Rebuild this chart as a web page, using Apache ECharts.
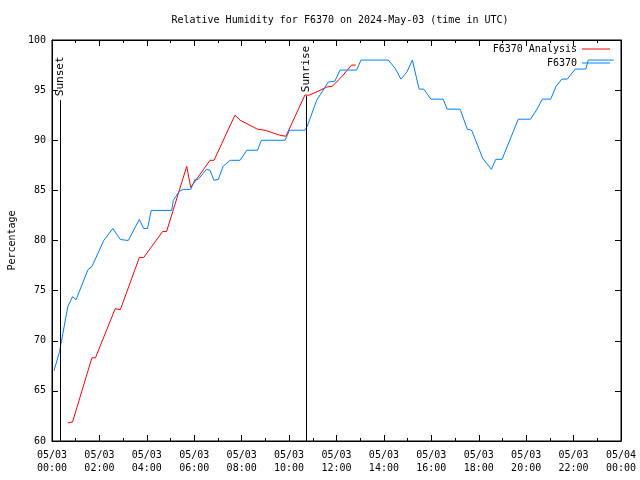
<!DOCTYPE html>
<html>
<head>
<meta charset="utf-8">
<script src="https://cdn.jsdelivr.net/npm/echarts@6/dist/echarts.min.js"></script>
<style>html,body{margin:0;padding:0;background:#fff}#c{width:640px;height:480px}</style>
</head>
<body>
<div id="c"></div>
<script>
// ---- data ----
const obsTimes = ['00:05','00:19','00:40','00:52','01:01','01:31','01:41','02:11','02:34','02:39','02:53','03:13','03:41','03:52','04:02','04:11','05:03','05:07','05:22','05:32','05:51','06:02','06:10','06:31','06:40','06:50','07:01','07:13','07:31','07:56','08:13','08:40','08:50','09:50','10:01','10:40','10:46','11:10','11:31','11:39','11:56','12:09','12:30','12:51','13:02','14:11','14:28','14:43','14:58','15:12','15:29','15:41','15:59','16:30','16:40','17:13','17:31','17:42','18:10','18:32','18:43','18:59','19:40','20:11','20:26','20:41','21:02','21:16','21:30','21:44','22:04','22:31','22:37','23:42'];
const obsValues = [67.0,68.9,73.4,74.4,74.1,77.1,77.4,80.0,81.2,81.2,80.1,80.0,82.1,81.2,81.2,83.0,83.0,84.0,84.9,85.1,85.1,86.1,86.1,87.1,87.0,86.0,86.1,87.4,88.0,88.0,89.0,89.0,90.0,90.0,91.0,91.0,91.4,94.0,95.3,95.8,95.9,97.0,97.0,97.0,98.0,98.0,97.2,96.1,96.8,98.0,95.1,95.1,94.1,94.1,93.1,93.1,91.1,91.0,88.2,87.1,88.1,88.1,92.1,92.1,93.0,94.1,94.1,95.4,96.1,96.1,97.1,97.1,98.0,98.0];
const anaTimes = ['00:40','00:52','01:41','01:50','02:40','02:53','03:41','03:52','04:40','04:50','05:41','05:51','06:40','06:50','07:43','07:56','08:40','08:59','09:37','09:52','10:40','10:51','11:14','11:35','11:50','12:17','12:38','12:49'];
const anaValues = [61.8,61.9,68.3,68.3,73.2,73.1,78.3,78.3,80.9,80.9,87.4,85.3,88.0,88.0,92.5,92.0,91.1,91.0,90.5,90.4,94.5,94.5,94.9,95.3,95.4,96.5,97.5,97.5];
const eventNames = ['Sunset','Sunrise'];
const eventTimes = ['00:19','10:44'];
const eventTops = [94.0, 94.4];
const xTickLabels = ['05/03\n00:00','05/03\n02:00','05/03\n04:00','05/03\n06:00','05/03\n08:00','05/03\n10:00','05/03\n12:00','05/03\n14:00','05/03\n16:00','05/03\n18:00','05/03\n20:00','05/03\n22:00','05/04\n00:00'];
const yTickLabels = ['60','65','70','75','80','85','90','95','100'];
const seriesNames = ['F6370 Analysis','F6370'];

// ---- helpers ----
const toH = s => { const p = s.split(':'); return +p[0] + (+p[1]) / 60; };
const pair = (ts, vs) => ts.map((t, i) => [toH(t), vs[i]]);
const FONT = 'DejaVu Sans Mono';
const txt = {fontFamily: FONT, fontSize: 10, color: '#000'};

const chart = echarts.init(document.getElementById('c'), null, {renderer: 'canvas'});
const tickCommon = {inside: true, length: 6, lineStyle: {color: '#000', width: 1}};
const axisLineCommon = {show: true, onZero: false, lineStyle: {color: '#000', width: 1}};

chart.setOption({
  animation: false,
  backgroundColor: '#fff',
  title: {
    text: 'Relative Humidity for F6370 on 2024-May-03 (time in UTC)',
    left: 335, top: 10, textAlign: 'center',
    textStyle: {fontFamily: FONT, fontSize: 10, fontWeight: 'normal', color: '#000'}
  },
  legend: {
    orient: 'vertical', right: 25, top: 39, align: 'right',
    itemWidth: 28, itemHeight: 1, itemGap: 4, icon: 'rect',
    textStyle: {fontFamily: FONT, fontSize: 10, color: '#000'},
    data: seriesNames
  },
  grid: {left: 52, right: 19, top: 40, bottom: 39, containLabel: false, outerBoundsMode: 'none',
         show: true, borderColor: '#000', borderWidth: 1, backgroundColor: 'transparent'},
  xAxis: [{
    type: 'value', min: 0, max: 24, interval: 2, position: 'bottom',
    axisLine: axisLineCommon, axisTick: tickCommon,
    minorTick: {show: true, splitNumber: 2, length: 3, lineStyle: {color: '#000'}},
    splitLine: {show: false}, minorSplitLine: {show: false},
    axisLabel: Object.assign({margin: 8, lineHeight: 13, formatter: v => xTickLabels[Math.round(v / 2)]}, txt)
  }, {
    type: 'value', min: 0, max: 24, interval: 2, position: 'top',
    axisLine: axisLineCommon, axisTick: tickCommon,
    minorTick: {show: true, splitNumber: 2, length: 3, lineStyle: {color: '#000'}},
    splitLine: {show: false}, axisLabel: {show: false}
  }],
  yAxis: [{
    type: 'value', min: 60, max: 100, interval: 5, position: 'left',
    name: 'Percentage', nameLocation: 'middle', nameGap: 35, nameRotate: 90,
    nameTextStyle: {fontFamily: FONT, fontSize: 10, color: '#000'},
    axisLine: axisLineCommon, axisTick: tickCommon, splitLine: {show: false},
    axisLabel: Object.assign({margin: 6, formatter: v => yTickLabels[Math.round((v - 60) / 5)]}, txt)
  }, {
    type: 'value', min: 60, max: 100, interval: 5, position: 'right',
    axisLine: axisLineCommon, axisTick: tickCommon, splitLine: {show: false},
    axisLabel: {show: false}
  }],
  series: [{
    name: seriesNames[0], type: 'line', data: pair(anaTimes, anaValues),
    showSymbol: false, symbol: 'none', lineStyle: {color: '#ff0000', width: 1}, itemStyle: {color: '#ff0000'}, z: 3
  }, {
    name: seriesNames[1], type: 'line', data: pair(obsTimes, obsValues),
    showSymbol: false, symbol: 'none', lineStyle: {color: '#0080ff', width: 1}, itemStyle: {color: '#0080ff'}, z: 4
  }, {
    type: 'custom', z: 5, silent: true,
    data: eventNames.map((n, i) => [toH(eventTimes[i]), eventTops[i], n]),
    renderItem: (params, api) => {
      const top = api.coord([api.value(0), api.value(1)]);
      const bot = api.coord([api.value(0), 60]);
      const x = Math.round(top[0]) + 0.5;
      return {
        type: 'group', children: [
          {type: 'line', shape: {x1: x, y1: top[1], x2: x, y2: bot[1]}, style: {stroke: '#000', lineWidth: 1}},
          {type: 'text', x: x, y: top[1] - 4, rotation: Math.PI / 2,
           style: {text: eventNames[params.dataIndex], fontFamily: FONT, fontSize: 11, fill: '#000', align: 'left', verticalAlign: 'middle'}}
        ]
      };
    }
  }]
});
</script>
</body>
</html>
